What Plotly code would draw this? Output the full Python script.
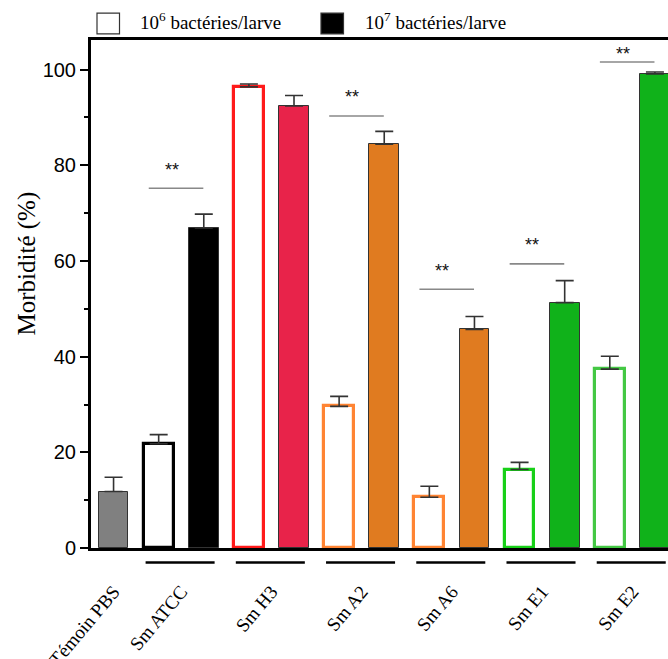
import plotly.graph_objects as go

# Groups shown on the x axis
categories = ["Témoin PBS", "Sm ATCC", "Sm H3", "Sm A2", "Sm A6", "Sm E1", "Sm E2"]

# One bar per condition: PBS control, then (10^6, 10^7) for each strain
bar_group = [0, 1, 1, 2, 2, 3, 3, 4, 4, 5, 5, 6, 6]
bar_dose = ["ctrl", "1e6", "1e7", "1e6", "1e7", "1e6", "1e7",
            "1e6", "1e7", "1e6", "1e7", "1e6", "1e7"]
morbidity = [11.8, 21.8, 66.9, 96.4, 92.4, 29.6, 84.4, 10.6, 45.7, 16.4, 51.3, 37.4, 99.1]
sem = [3.0, 1.9, 2.9, 0.6, 2.2, 2.1, 2.7, 2.3, 2.7, 1.5, 4.6, 2.7, 0.4]

# Strain colours: outline colour of the 10^6 bar, fill colour of the 10^7 bar
open_colour = {1: "#000000", 2: "#ff1a1a", 3: "#ff8433", 4: "#ff8433", 5: "#18d018", 6: "#44c844"}
fill_colour = {1: "#000000", 2: "#e8234a", 3: "#e07b20", 4: "#e07b20", 5: "#10b21a", 6: "#10b21a"}

# Significant differences (**) between the two doses: group index, bracket level (%)
sig_groups = [1, 3, 4, 5, 6]
sig_levels = [75.2, 90.3, 54.1, 59.4, 101.6]

SERIF = "Liberation Serif"
SANS = "Liberation Sans"
Y_MAX = 106.2

xpos = list(range(len(morbidity)))
fills, lines, lwidths = [], [], []
for g, d in zip(bar_group, bar_dose):
    if d == "ctrl":
        fills.append("#808080"); lines.append("#333333"); lwidths.append(1)
    elif d == "1e6":
        fills.append("#ffffff"); lines.append(open_colour[g]); lwidths.append(3.2)
    else:
        fills.append(fill_colour[g]); lines.append("#333333"); lwidths.append(1)

fig = go.Figure()
fig.add_trace(go.Bar(
    x=xpos, y=morbidity, width=0.66,
    marker=dict(color=fills, line=dict(color=lines, width=lwidths)),
    error_y=dict(type="data", symmetric=False, array=sem, arrayminus=[0] * len(sem),
                 color="#333333", thickness=1.6, width=9),
    showlegend=False, hoverinfo="skip",
))

# Tick positions: centre of each group
group_centres = []
for gi in range(len(categories)):
    members = [i for i, g in enumerate(bar_group) if g == gi]
    group_centres.append(sum(members) / len(members))

shapes = []
annotations = []

# Underline below each strain's pair of bars
for gi in range(1, len(categories)):
    members = [i for i, g in enumerate(bar_group) if g == gi]
    shapes.append(dict(type="line", xref="x", yref="paper",
                       x0=members[0] - 0.29, x1=members[-1] + 0.24,
                       y0=-0.0285, y1=-0.0285,
                       line=dict(color="black", width=2.5)))

# Significance brackets; stars sit above the line, kept below the top frame
for gi, lvl in zip(sig_groups, sig_levels):
    members = [i for i, g in enumerate(bar_group) if g == gi]
    x0, x1 = members[0] - 0.22, members[-1] - 0.01
    shapes.append(dict(type="line", xref="x", yref="y", x0=x0, x1=x1, y0=lvl, y1=lvl,
                       line=dict(color="#888888", width=1.6)))
    annotations.append(dict(x=(x0 + x1) / 2 - 0.1, y=min(lvl + 3.9, Y_MAX - 2.9),
                            xref="x", yref="y",
                            text="**", showarrow=False, yanchor="middle",
                            font=dict(family=SANS, size=18, color="#111111")))

# Legend drawn above the plot
legend_items = [("10<sup>6</sup> bactéries/larve", "#ffffff", 0.0104, 0.0815),
                ("10<sup>7</sup> bactéries/larve", "#000000", 0.3986, 0.4714)]
for label, colour, sx, tx in legend_items:
    shapes.append(dict(type="rect", xref="paper", yref="paper",
                       x0=sx, x1=sx + 0.039, y0=1.012, y1=1.053,
                       fillcolor=colour, line=dict(color="#333333", width=1.2)))
    annotations.append(dict(x=tx, y=1.037, xref="paper", yref="paper", text=label,
                            showarrow=False, xanchor="left", yanchor="middle",
                            font=dict(family=SERIF, size=19, color="black")))

# Y axis title
annotations.append(dict(x=-0.111, y=0.56, xref="paper", yref="paper",
                        text="Morbidité (%)", textangle=-90, showarrow=False,
                        xanchor="center", yanchor="middle",
                        font=dict(family=SERIF, size=25, color="black")))

fig.update_layout(
    width=668, height=659,
    margin=dict(l=91, r=0, t=40, b=111, autoexpand=False),
    plot_bgcolor="white", paper_bgcolor="white",
    bargap=0,
    shapes=shapes, annotations=annotations,
)
fig.update_xaxes(
    range=[-0.5, 12.29], showline=True, linecolor="black", linewidth=3, mirror=True,
    showgrid=False, zeroline=False, ticks="", automargin=False,
    tickmode="array", tickvals=group_centres, ticktext=categories,
    tickangle=-50, ticklabelstandoff=22,
    tickfont=dict(family=SERIF, size=19, color="black"),
)
fig.update_yaxes(
    range=[0, Y_MAX], showline=True, linecolor="black", linewidth=3,
    showgrid=False, zeroline=False, automargin=False,
    tickmode="linear", tick0=0, dtick=20,
    ticks="outside", ticklen=8, tickwidth=2, tickcolor="black",
    minor=dict(ticks="outside", ticklen=4, tickwidth=2, tickcolor="black", dtick=10),
    tickfont=dict(family=SANS, size=20, color="black"),
)

fig.write_html("out.html")
